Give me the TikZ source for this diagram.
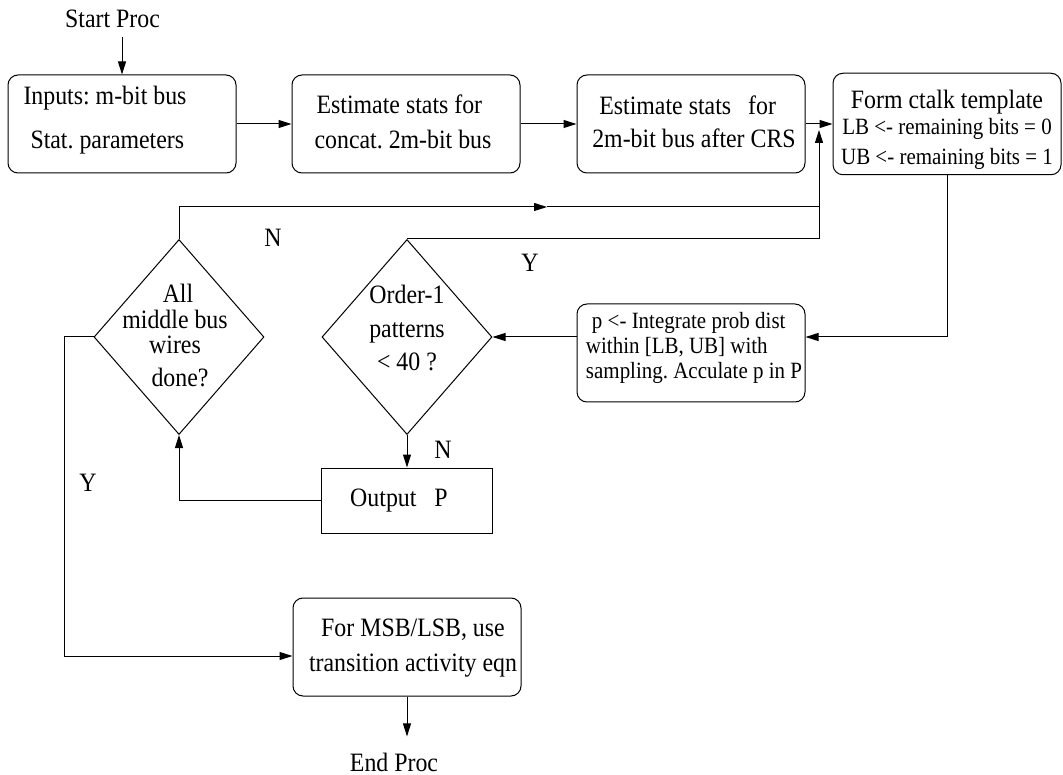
\documentclass[tikz,border=0pt]{standalone}
\usepackage{fontspec}
\setmainfont{Liberation Serif}[FakeStretch=0.9]
\usetikzlibrary{shapes.geometric,arrows.meta}
\begin{document}
\frenchspacing
\begin{tikzpicture}[x=1pt,y=-1pt,
  every node/.style={font=\fontsize{26.5}{35}\selectfont, inner sep=0pt},
  wire/.style={line width=1pt},
  flow/.style={wire, -{Triangle[length=13pt,width=8pt]}},
  proc/.style={draw, wire, rounded corners=10pt, minimum width=228pt, minimum height=98pt},
  decide/.style={draw, wire, diamond, minimum width=170pt, minimum height=195pt},
  outbox/.style={draw, wire, minimum width=171pt, minimum height=65pt},
  smallfont/.style={font=\fontsize{23.3}{24.5}\selectfont},
]
\useasboundingbox (0,0) rectangle (1063,775);

% terminals
\node (start) at (112.5,19) {Start Proc};
\node (endp) at (394,762) {End Proc};

% top row of process boxes
\node[proc] (inp) at (122,124) {\begin{tabular}{@{}l@{}}Inputs: m-bit bus\\[9pt]\hspace{7pt}Stat. parameters\\[8pt]\end{tabular}\kern34pt};
\node[proc] (est1) at (406,124) {\begin{tabular}{@{}l@{}}\hspace{2pt}Estimate stats for\\concat. 2m-bit bus\end{tabular}\kern6pt};
\node[proc] (est2) at (691,124) {\kern6pt\begin{tabular}{@{}l@{}}\hspace{7pt}Estimate stats\hspace{17pt}for\\[-2pt]2m-bit bus after CRS\end{tabular}};
\node[proc] (tmpl) at (947,124) {\begin{tabular}{@{}c@{}}\rule{0pt}{35pt}Form ctalk template\\[-9pt]{\fontsize{23.3}{24.5}\selectfont LB <- remaining bits = 0}\\[-5pt]{\fontsize{23.3}{24.5}\selectfont UB <- remaining bits = 1}\end{tabular}};

% integration step
\node[proc, smallfont] (integ) at (691,353) {\kern6pt\begin{tabular}{@{}l@{}}\hspace{6pt}p <- Integrate prob dist\\within [LB, UB] with\\[1pt]sampling. Acculate p in P\\[8pt]\end{tabular}};

% decisions
\node[decide] (all) at (179,337) {\smash{\raisebox{-8pt}{\fontsize{26.5}{25}\selectfont\begin{tabular}{@{}c@{}}\hspace{6pt}All\\middle bus\\wires\hspace{10pt}\\[7pt]\hspace{10pt}done?\end{tabular}\kern8pt}}};
\node[decide] (order) at (407,337) {\smash{\fontsize{26.5}{33.5}\selectfont\begin{tabular}{@{}c@{}}Order-1\\patterns\\< 40 ?\end{tabular}}};

% output and final step
\node[outbox] (outp) at (406.5,500.5) {Output\hspace{18pt}P\kern15pt};
\node[proc] (msb) at (407,647) {\kern12pt\begin{tabular}{@{}c@{}}For MSB/LSB, use\\transition activity eqn\end{tabular}};

% branch labels
\node (n1) at (273,238) {N};
\node (y1) at (530,263) {Y};
\node (n2) at (443,450) {N};
\node (y2) at (88,483) {Y};

% loop-back junction
\coordinate (jn) at (819,207);
\coordinate (jt) at (819,130);
\coordinate (nmid) at (547,207);

% connectors
\draw[flow] ([yshift=-9pt]start.south -| inp.north) -- (inp.north);
\draw[flow] (inp) -- (est1);
\draw[flow] (est1) -- (est2);
\draw[flow] (est2) -- (tmpl);
\draw[flow] (tmpl.south) |- (integ.east |- order.east);
\draw[flow] (integ.west |- order.east) -- (order.east);
\draw[flow] (order.south) -- (order.south |- outp.north);
\draw[flow] (outp.west) -| (all.south);
\draw[flow] (all.west) -- ++(-29,0) |- ([yshift=-9pt]msb.west);
\draw[flow] (all.north) |- (nmid);
\draw[wire] (nmid) -- (jn);
\draw[flow] (order.north) -| (jt);
\draw[flow] (msb.south) -- ([yshift=16pt]endp.north -| msb.south);
\end{tikzpicture}
\end{document}
